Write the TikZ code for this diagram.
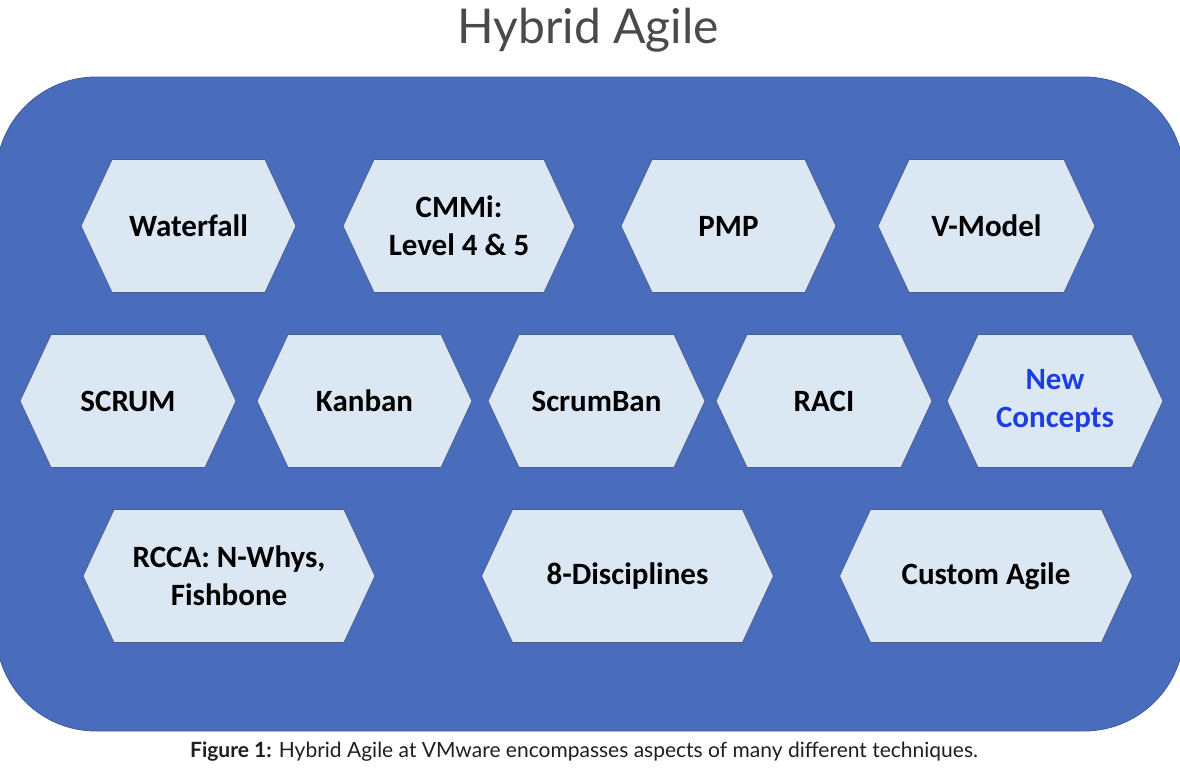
\documentclass[tikz,border=0pt]{standalone}
\usepackage{fontspec}
\setmainfont{Carlito}
\newfontfamily\titlefont{Lato}
\usepackage{xcolor}
\usetikzlibrary{shapes.symbols}
\definecolor{panelblue}{HTML}{4A6CBD}
\definecolor{paneledge}{HTML}{3F5C9E}
\definecolor{hexfill}{HTML}{DCE7F4}
\definecolor{hexedge}{HTML}{4A5F8E}
\definecolor{titlegray}{HTML}{4A4A4C}
\definecolor{newblue}{HTML}{1E3FE0}

\tikzset{
  hexbox/.style={signal, signal to=west and east, signal pointer angle=130,
    fill=hexfill, draw=hexedge, line width=0.8pt, minimum height=133pt,
    inner sep=0pt, align=center, text=black,
    font=\fontsize{31}{38}\selectfont\bfseries},
}

\begin{document}
\begin{tikzpicture}[x=1pt, y=-1pt]
  \useasboundingbox (0,0) rectangle (1180,774);
  \node[anchor=base, text=titlegray, font=\titlefont\fontsize{48}{52}\selectfont] (title) at (588,43) {Hybrid Agile};
  \draw[fill=panelblue, draw=paneledge, line width=0.8pt, rounded corners=100pt] (-4,77) rectangle (1184,731);

  % first row
  \node[hexbox, minimum width=215pt] (waterfall) at (188.5,226) {Waterfall};
  \node[hexbox, minimum width=232pt] (cmmi) at (459,226) {CMMi:\\Level 4 \& 5};
  \node[hexbox, minimum width=215pt] (pmp) at (728.5,226) {PMP};
  \node[hexbox, minimum width=217pt] (vmodel) at (986.5,226) {V-Model};

  % second row
  \node[hexbox, minimum width=216pt] (scrum) at (128,401) {SCRUM};
  \node[hexbox, minimum width=215pt] (kanban) at (364.5,401) {Kanban};
  \node[hexbox, minimum width=217pt] (scrumban) at (596.5,401) {ScrumBan};
  \node[hexbox, minimum width=216pt] (raci) at (824,401) {RACI};
  \node[hexbox, minimum width=216pt, text=newblue] (newconcepts) at (1055,401) {New\\Concepts};

  % third row
  \node[hexbox, minimum width=292pt] (rcca) at (229,576) {RCCA: N-Whys,\\Fishbone};
  \node[hexbox, minimum width=292pt] (disciplines) at (627.5,576) {8-Disciplines};
  \node[hexbox, minimum width=293pt] (customagile) at (986,576) {Custom Agile};

  \node[anchor=base, text=black!88, font=\titlefont\fontsize{21}{24}\selectfont] (caption) at (584,757)
    {\textbf{Figure 1:} Hybrid Agile at VMware encompasses aspects of many different techniques.};
\end{tikzpicture}
\end{document}
